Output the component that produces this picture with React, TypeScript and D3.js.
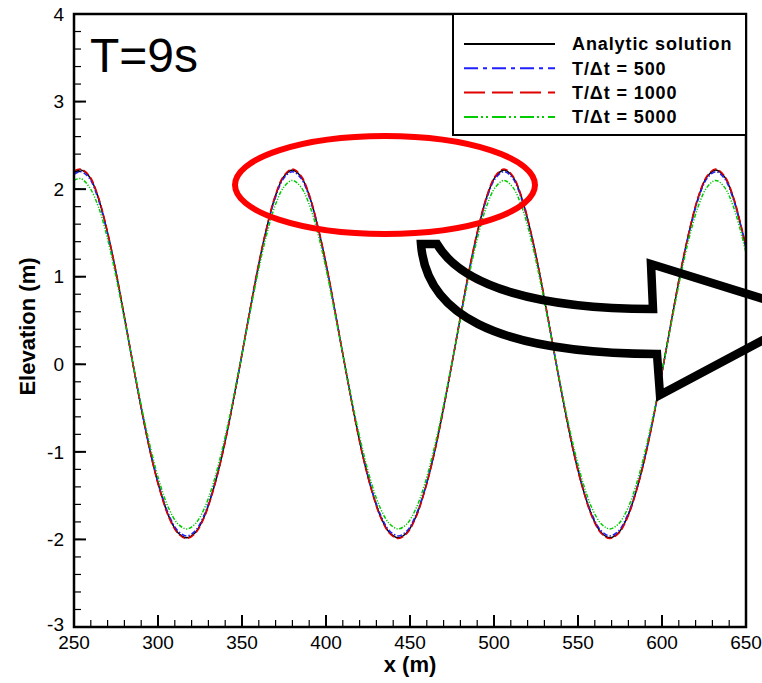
import React from "react";
import * as d3 from "d3";

// ---- data ----
const X_VALUES = [
  250,
  254, 259.25, 264.5, 269.75, 275, 280.25, 285.5, 290.75, 296, 301.25, 306.5, 311.75,
  317, 322.25, 327.5, 332.75, 338, 343.25, 348.5, 353.75, 359, 364.25, 369.5, 374.75,
  380, 385.25, 390.5, 395.75, 401, 406.25, 411.5, 416.75, 422, 427.25, 432.5, 437.75,
  443, 448.25, 453.5, 458.75, 464, 469.25, 474.5, 479.75, 485, 490.25, 495.5, 500.75,
  506, 511.25, 516.5, 521.75, 527, 532.25, 537.5, 542.75, 548, 553.25, 558.5, 563.75,
  569, 574.25, 579.5, 584.75, 590, 595.25, 600.5, 605.75, 611, 616.25, 621.5, 626.75,
  632, 637.25, 642.5, 647.75,
  650,
];

const ANALYTIC = [
  2.19,
  2.22, 2.14, 1.90, 1.52, 1.05, 0.51, -0.04, -0.57, -1.05, -1.44, -1.74, -1.92,
  -1.98, -1.92, -1.74, -1.44, -1.05, -0.57, -0.04, 0.51, 1.05, 1.52, 1.90, 2.14,
  2.22, 2.14, 1.90, 1.52, 1.05, 0.51, -0.04, -0.57, -1.05, -1.44, -1.74, -1.92,
  -1.98, -1.92, -1.74, -1.44, -1.05, -0.57, -0.04, 0.51, 1.05, 1.52, 1.90, 2.14,
  2.22, 2.14, 1.90, 1.52, 1.05, 0.51, -0.04, -0.57, -1.05, -1.44, -1.74, -1.92,
  -1.98, -1.92, -1.74, -1.44, -1.05, -0.57, -0.04, 0.51, 1.05, 1.52, 1.90, 2.14,
  2.22, 2.14, 1.90, 1.52,
  1.33,
];

const DT500 = [
  2.17,
  2.20, 2.12, 1.88, 1.51, 1.04, 0.51, -0.04, -0.57, -1.04, -1.43, -1.72, -1.90,
  -1.96, -1.90, -1.72, -1.43, -1.04, -0.57, -0.04, 0.51, 1.04, 1.51, 1.88, 2.12,
  2.20, 2.12, 1.88, 1.51, 1.04, 0.51, -0.04, -0.57, -1.04, -1.43, -1.72, -1.90,
  -1.96, -1.90, -1.72, -1.43, -1.04, -0.57, -0.04, 0.51, 1.04, 1.51, 1.88, 2.12,
  2.20, 2.12, 1.88, 1.51, 1.04, 0.51, -0.04, -0.57, -1.04, -1.43, -1.72, -1.90,
  -1.96, -1.90, -1.72, -1.43, -1.04, -0.57, -0.04, 0.51, 1.04, 1.51, 1.88, 2.12,
  2.20, 2.12, 1.88, 1.51,
  1.32,
];

const DT1000 = [
  2.21,
  2.23, 2.15, 1.91, 1.53, 1.06, 0.52, -0.04, -0.58, -1.06, -1.45, -1.75, -1.93,
  -1.99, -1.93, -1.75, -1.45, -1.06, -0.58, -0.04, 0.52, 1.06, 1.53, 1.91, 2.15,
  2.23, 2.15, 1.91, 1.53, 1.06, 0.52, -0.04, -0.58, -1.06, -1.45, -1.75, -1.93,
  -1.99, -1.93, -1.75, -1.45, -1.06, -0.58, -0.04, 0.52, 1.06, 1.53, 1.91, 2.15,
  2.23, 2.15, 1.91, 1.53, 1.06, 0.52, -0.04, -0.58, -1.06, -1.45, -1.75, -1.93,
  -1.99, -1.93, -1.75, -1.45, -1.06, -0.58, -0.04, 0.52, 1.06, 1.53, 1.91, 2.15,
  2.23, 2.15, 1.91, 1.53,
  1.34,
];

const DT5000 = [
  2.10,
  2.12, 2.02, 1.80, 1.45, 1.00, 0.49, -0.03, -0.54, -0.99, -1.37, -1.65, -1.82,
  -1.88, -1.82, -1.65, -1.37, -0.99, -0.54, -0.03, 0.49, 1.00, 1.45, 1.80, 2.02,
  2.10, 2.02, 1.80, 1.45, 1.00, 0.49, -0.03, -0.54, -0.99, -1.37, -1.65, -1.82,
  -1.88, -1.82, -1.65, -1.37, -0.99, -0.54, -0.03, 0.49, 1.00, 1.45, 1.80, 2.02,
  2.10, 2.02, 1.80, 1.45, 1.00, 0.49, -0.03, -0.54, -0.99, -1.37, -1.65, -1.82,
  -1.88, -1.82, -1.65, -1.37, -0.99, -0.54, -0.03, 0.49, 1.00, 1.45, 1.80, 2.02,
  2.10, 2.02, 1.80, 1.45,
  1.27,
];

const X_TICKS = [250, 300, 350, 400, 450, 500, 550, 600, 650];
const Y_TICKS = [-3, -2, -1, 0, 1, 2, 3, 4];
const LEGEND_LABELS = ["Analytic solution", "T/\u0394t = 500", "T/\u0394t = 1000", "T/\u0394t = 5000"];
const TITLE = "T=9s";
const X_LABEL = "x (m)";
const Y_LABEL = "Elevation (m)";

// ---- styles ----
const SERIES = [
  { values: ANALYTIC, color: "#000000", dash: "", legendDash: "" },
  { values: DT500, color: "#2020ff", dash: "5,2,1.5,2", legendDash: "14,5,4,5" },
  { values: DT1000, color: "#e00000", dash: "7,3", legendDash: "21,7" },
  { values: DT5000, color: "#00cc00", dash: "4,1.5,1.2,1.5,1.2,1.5", legendDash: "14,3,2,3,2,4" },
];

const W = 762;
const H = 683;
const L = 74, R = 746, T = 14, B = 627;
const FONT = "'Liberation Sans', Arial, Helvetica, sans-serif";

export default function App() {
  const x = d3.scaleLinear().domain([250, 650]).range([L, R]);
  const y = d3.scaleLinear().domain([-3, 4]).range([B, T]);
  const minorX = d3.range(250, 651, 10);
  const minorY = d3.range(-3, 4.001, 0.2);

  const line = (vals: number[]) =>
    d3
      .line<number>()
      .x((_, i) => x(X_VALUES[i]))
      .y((v) => y(v))
      .curve(d3.curveCatmullRom.alpha(0.5))(vals) || "";

  const arrowPath =
    "M 421,244 L 437,244 C 462,287 540,309 653,309 L 651,264 L 812,314 L 660,395 L 657,354 C 490,353 426,312 421,244 Z";

  return (
    <svg
      width={W}
      height={H}
      viewBox={`0 0 ${W} ${H}`}
      style={{ position: "absolute", left: 0, top: 0, display: "block", background: "#fff" }}
    >
      <rect x={0} y={0} width={W} height={H} fill="#fff" />
      <defs>
        <clipPath id="plotclip">
          <rect x={L} y={T} width={R - L} height={B - T} />
        </clipPath>
      </defs>

      {/* ticks */}
      {minorX.map((t) => (
        <line key={"mx" + t} x1={x(t)} x2={x(t)} y1={B} y2={B - 7} stroke="#000" strokeWidth={1.2} />
      ))}
      {X_TICKS.map((t) => (
        <line key={"Mx" + t} x1={x(t)} x2={x(t)} y1={B} y2={B - 12} stroke="#000" strokeWidth={2} />
      ))}
      {minorY.map((t, i) => (
        <line key={"my" + i} x1={L} x2={L + 7} y1={y(t)} y2={y(t)} stroke="#000" strokeWidth={1.2} />
      ))}
      {Y_TICKS.map((t) => (
        <line key={"My" + t} x1={L} x2={L + 12} y1={y(t)} y2={y(t)} stroke="#000" strokeWidth={2} />
      ))}

      {/* tick labels */}
      {X_TICKS.map((t) => (
        <text key={"lx" + t} x={x(t)} y={649} textAnchor="middle" fontFamily={FONT} fontSize={19}>
          {t}
        </text>
      ))}
      {Y_TICKS.map((t) => (
        <text
          key={"ly" + t}
          x={64}
          y={t === -3 ? y(t) - 3 : y(t)}
          dy="0.35em"
          textAnchor="end"
          fontFamily={FONT}
          fontSize={19}
        >
          {t}
        </text>
      ))}

      {/* series */}
      <g clipPath="url(#plotclip)">
        {SERIES.map((s, i) => (
          <path
            key={"s" + i}
            d={line(s.values)}
            fill="none"
            stroke={s.color}
            strokeWidth={1.5}
            strokeDasharray={s.dash || undefined}
          />
        ))}
      </g>

      {/* frame */}
      <rect x={L} y={T} width={R - L} height={B - T} fill="none" stroke="#000" strokeWidth={2.5} />

      {/* legend */}
      <rect x={453} y={T} width={R - 453} height={121} fill="#fff" stroke="#000" strokeWidth={2} />
      {LEGEND_LABELS.map((lab, i) => {
        const yy = 44 + i * 24.3;
        const s = SERIES[i];
        return (
          <g key={"lg" + i}>
            <line
              x1={464}
              x2={555}
              y1={yy}
              y2={yy}
              stroke={s.color}
              strokeWidth={2}
              strokeDasharray={s.legendDash || undefined}
            />
            <text
              x={572}
              y={yy}
              dy="0.36em"
              fontFamily={FONT}
              fontWeight="bold"
              fontSize={18}
              letterSpacing={0.9}
            >
              {lab}
            </text>
          </g>
        );
      })}

      {/* title */}
      <text x={90} y={72} fontFamily={FONT} fontSize={48}>
        {TITLE}
      </text>

      {/* axis labels */}
      <text x={410} y={672} textAnchor="middle" fontFamily={FONT} fontWeight="bold" fontSize={22}>
        {X_LABEL}
      </text>
      <text
        transform={`translate(35,${(T + B) / 2 + 6}) rotate(-90)`}
        textAnchor="middle"
        fontFamily={FONT}
        fontWeight="bold"
        fontSize={22}
      >
        {Y_LABEL}
      </text>

      {/* annotations */}
      <ellipse cx={385} cy={185} rx={150} ry={49} fill="none" stroke="#ff0000" strokeWidth={6} />
      <path d={arrowPath} fill="none" stroke="#000" strokeWidth={8.5} strokeLinejoin="miter" strokeMiterlimit={10} />
    </svg>
  );
}
